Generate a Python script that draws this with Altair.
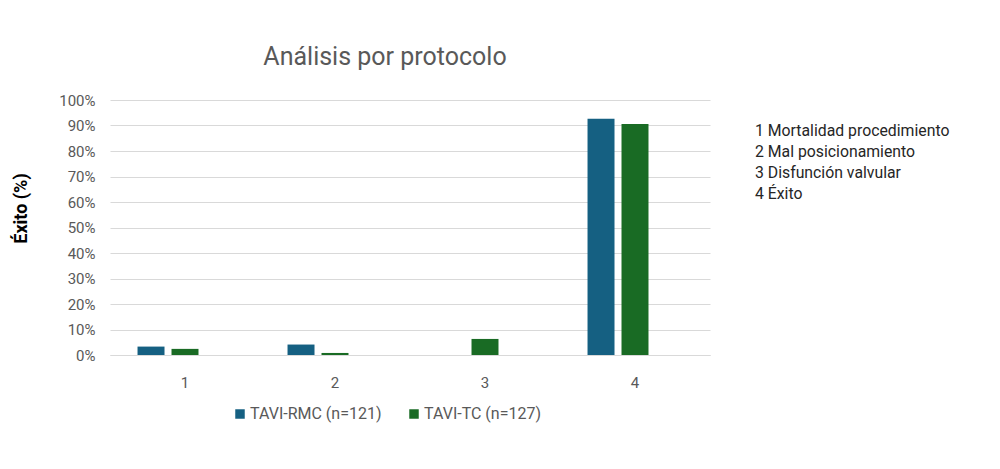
import altair as alt
import pandas as pd

# ---------------------------------------------------------------------------
# data
# ---------------------------------------------------------------------------
categories = ["1", "2", "3", "4"]
series_names = ["TAVI-RMC (n=121)", "TAVI-TC (n=127)"]
rmc_pct = [3.3, 4.1, 0.0, 92.6]
tc_pct = [2.4, 0.8, 6.3, 90.6]
category_notes = [
    "1 Mortalidad procedimiento",
    "2 Mal posicionamiento",
    "3 Disfunción valvular",
    "4 Éxito",
]
colors = ["#156082", "#196B24"]

FONT = "Roboto"
GREY = "#595959"
GRID = "#d9d9d9"

rows = []
for name, vals in zip(series_names, [rmc_pct, tc_pct]):
    for cat, v in zip(categories, vals):
        rows.append({"cat": cat, "serie": name, "value": v / 100.0})
df = pd.DataFrame(rows)

notes_df = pd.DataFrame({"txt": ["\n".join(category_notes)]})

bars = alt.Chart(df).mark_bar().encode(
    x=alt.X(
        "cat:N",
        sort=categories,
        title=None,
        scale=alt.Scale(paddingInner=0.367, paddingOuter=0.1835),
        axis=alt.Axis(
            labelAngle=0,
            ticks=False,
            domainColor=GRID,
            labelColor=GREY,
            labelFontSize=15,
            labelFont=FONT,
            labelPadding=20,
        ),
    ),
    xOffset=alt.XOffset(
        "serie:N",
        scale=alt.Scale(domain=series_names + ["_blank"], paddingInner=0.206, paddingOuter=0),
    ),
    y=alt.Y(
        "value:Q",
        title="Éxito (%)",
        scale=alt.Scale(domain=[0, 1]),
        axis=alt.Axis(
            format=".0%",
            values=[i / 10 for i in range(11)],
            grid=True,
            gridColor=GRID,
            domain=False,
            ticks=False,
            labelColor=GREY,
            labelFontSize=15,
            labelFont=FONT,
            labelPadding=15,
            titleFont=FONT,
            titleFontSize=18,
            titleFontWeight="bold",
            titleColor="#000000",
            titleX=-80,
            titleY=108,
            titleAngle=270,
        ),
    ),
    color=alt.Color(
        "serie:N",
        scale=alt.Scale(domain=series_names, range=colors),
        legend=alt.Legend(
            title=None,
            orient="none",
            direction="horizontal",
            legendX=122,
            legendY=306,
            symbolType="square",
            symbolSize=90,
            symbolStrokeWidth=0,
            labelFont=FONT,
            labelFontSize=16,
            labelColor=GREY,
            labelOffset=2,
            columnPadding=24,
        ),
    ),
)

notes = alt.Chart(notes_df).mark_text(
    align="left",
    baseline="middle",
    lineBreak="\n",
    lineHeight=21,
    font=FONT,
    fontSize=15.8,
    color="#262626",
).encode(
    text="txt:N",
    x=alt.value(645),
    y=alt.value(31),
)

chart = alt.layer(bars, notes).properties(
    width=600,
    height=255,
    autosize=alt.AutoSizeParams(type="none"),
    padding={"left": 102, "top": 92, "right": 270, "bottom": 100},
    background="white",
    title=alt.TitleParams(
        text="Análisis por protocolo",
        anchor="middle",
        dx=-25,
        offset=23,
        font=FONT,
        fontSize=25,
        fontWeight="normal",
        color=GREY,
    ),
).configure_view(stroke=None)

chart.save("out.html", embed_options={"renderer": "svg", "actions": False})
